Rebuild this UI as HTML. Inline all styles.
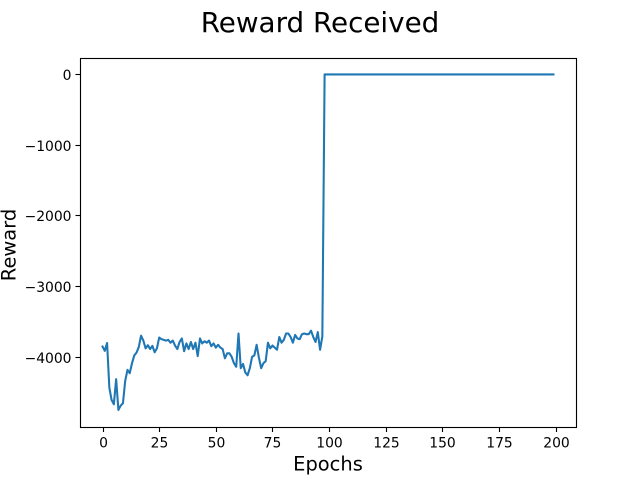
<!DOCTYPE html>
<html>
<head>
<meta charset="utf-8">
<title>Reward Received</title>
<style>
html,body{margin:0;padding:0;background:#fff;width:640px;height:480px;overflow:hidden}
svg{display:block;font-family:"DejaVu Sans",sans-serif}
</style>
</head>
<body>
<svg id="chart" width="640" height="480" viewBox="0 0 640 480" xmlns="http://www.w3.org/2000/svg">
<rect width="640" height="480" fill="#fff"/>
<text x="320" y="32" font-size="27.78" text-anchor="middle" fill="#000">Reward Received</text>
<text x="328" y="470.5" font-size="19.44" text-anchor="middle" fill="#000">Epochs</text>
<text transform="translate(15.5,245) rotate(-90)" font-size="19.44" text-anchor="middle" fill="#000">Reward</text>
<g id="plot"></g>
</svg>
<script>
const rewardStart = [-3845,-3905,-3795,-4425,-4600,-4660,-4305,-4740,-4680,-4645,-4330,-4175,-4220,-4080,-3970,-3930,-3850,-3690,-3760,-3870,-3825,-3880,-3835,-3925,-3870];
const rewardMiddle = [-3717,-3740,-3750,-3760,-3750,-3790,-3760,-3830,-3880,-3780,-3730,-3910,-3800,-3880,-3780,-3880,-3790,-3980,-3730,-3800,-3770,-3790,-3760,-3840,-3800,-3860,-3820,-3860,-3880,-4010,-3940,-3940,-3990,-4080,-4130,-3660,-4150,-4090,-4210,-4250,-4150,-3990,-3970,-3820,-4000,-4150,-4080,-4050,-3790,-3870,-3830,-3860,-3890,-3710,-3790,-3750,-3660,-3660,-3710,-3790,-3680,-3730,-3740,-3670,-3660,-3670,-3670,-3620,-3710,-3780,-3640,-3890,-3700];
const rewardEnd = [0,0,0,0,0,0,0,0,0,0,0,0,0,0,0,0,0,0,0,0,0,0,0,0,0,0,0,0,0,0,0,0,0,0,0,0,0,0,0,0,0,0,0,0,0,0,0,0,0,0,0,0,0,0,0,0,0,0,0,0,0,0,0,0,0,0,0,0,0,0,0,0,0,0,0,0,0,0,0,0,0,0,0,0,0,0,0,0,0,0,0,0,0,0,0,0,0,0,0,0,0,0];
const xTicks = [0,25,50,75,100,125,150,175,200];
const yTicks = [0,-1000,-2000,-3000,-4000];

const rewards = rewardStart.concat(rewardMiddle, rewardEnd);
const NS = 'http://www.w3.org/2000/svg';
const plot = document.getElementById('plot');
const box = {left:80, right:576, top:58, bottom:427};
const n = rewards.length;
const xPad = (n - 1) * 0.05;
const yMaxData = Math.max.apply(null, rewards);
const yMinData = Math.min.apply(null, rewards);
const yPad = (yMaxData - yMinData) * 0.05;
function xScale(v){ return box.left + (v + xPad) / ((n - 1) + 2 * xPad) * (box.right - box.left); }
function yScale(v){ return box.top + ((yMaxData + yPad) - v) / ((yMaxData - yMinData) + 2 * yPad) * (box.bottom - box.top); }
function snapX(x){ return Math.floor(x + 0.5) + 0.5; }
function snapY(y){ return 480 - (Math.floor(480 - y + 0.5) + 0.5); }
function fmt(v){ return v < 0 ? '\u2212' + Math.abs(v) : String(v); }

const line = document.createElementNS(NS, 'polyline');


line.setAttribute('fill', 'none');
line.setAttribute('stroke', '#1f77b4');
line.setAttribute('stroke-width', '2.08');
line.setAttribute('stroke-linejoin', 'round');
line.setAttribute('stroke-linecap', 'square');
line.setAttribute('transform', 'translate(0,-0.3)');
line.setAttribute('points', rewards.map(function(v, i){ return xScale(i).toFixed(2) + ',' + yScale(v).toFixed(2); }).join(' '));
plot.appendChild(line);

const frame = document.createElementNS(NS, 'rect');


frame.setAttribute('x', box.left + 0.5);
frame.setAttribute('y', box.top + 0.5);
frame.setAttribute('width', box.right - box.left);
frame.setAttribute('height', box.bottom - box.top);
frame.setAttribute('fill', 'none');
frame.setAttribute('stroke', '#000');
frame.setAttribute('stroke-width', '1.11');
plot.appendChild(frame);

xTicks.forEach(function(v){
  const x = snapX(xScale(v));
  const tick = document.createElementNS(NS, 'line');
  
  
  tick.setAttribute('x1', x);
  tick.setAttribute('x2', x);
  tick.setAttribute('y1', box.bottom + 0.5);
  tick.setAttribute('y2', box.bottom + 5);
  tick.setAttribute('stroke', '#000');
  tick.setAttribute('stroke-width', '1.11');
  plot.appendChild(tick);
  const label = document.createElementNS(NS, 'text');
  
  
  label.setAttribute('x', x);
  label.setAttribute('y', box.bottom + 20.6);
  label.setAttribute('font-size', '13.89');
  label.setAttribute('text-anchor', 'middle');
  label.textContent = fmt(v);
  plot.appendChild(label);
});

yTicks.forEach(function(v){
  const y = snapY(yScale(v));
  const tick = document.createElementNS(NS, 'line');
  
  
  tick.setAttribute('x1', box.left - 4.5);
  tick.setAttribute('x2', box.left + 0.5);
  tick.setAttribute('y1', y);
  tick.setAttribute('y2', y);
  tick.setAttribute('stroke', '#000');
  tick.setAttribute('stroke-width', '1.11');
  plot.appendChild(tick);
  const label = document.createElementNS(NS, 'text');
  
  
  label.setAttribute('x', box.left - 8.5);
  label.setAttribute('y', y + 5.3);
  label.setAttribute('font-size', '13.89');
  label.setAttribute('text-anchor', 'end');
  label.textContent = fmt(v);
  plot.appendChild(label);
});
</script>
</body>
</html>
